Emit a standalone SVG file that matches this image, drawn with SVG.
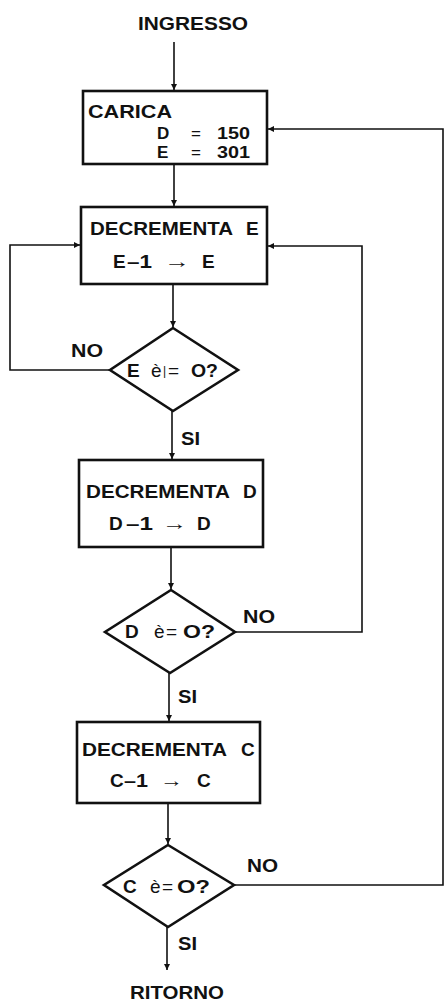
<svg xmlns="http://www.w3.org/2000/svg" width="444" height="1002" viewBox="0 0 444 1002">
<style>
  text { font-family: "Liberation Sans", "DejaVu Sans", sans-serif; font-weight: bold; fill: #111; }
  .t { font-size: 19px; }
  .s { font-size: 17px; }
  .thin { font-weight: normal; }
  .box { fill: #fff; stroke: #111; stroke-width: 2.6; }
  .dia { fill: #fff; stroke: #111; stroke-width: 2.6; stroke-linejoin: miter; }
  .con { fill: none; stroke: #111; stroke-width: 1.6; }
</style>
<defs>
  <marker id="ah" viewBox="0 0 10 10" refX="10" refY="5" markerWidth="6" markerHeight="6" markerUnits="userSpaceOnUse" orient="auto">
    <path d="M0,0 L10,5 L0,10 z" fill="#111"/>
  </marker>
</defs>
<rect width="444" height="1002" fill="#fff"/>

<g id="connectors">
  <path class="con" d="M174,42 V90" marker-end="url(#ah)"/>
  <path class="con" d="M174,164 V206" marker-end="url(#ah)"/>
  <path class="con" d="M173,284 V327" marker-end="url(#ah)"/>
  <path class="con" d="M110,370 H10 V245 H80" marker-end="url(#ah)"/>
  <path class="con" d="M172,411 V459" marker-end="url(#ah)"/>
  <path class="con" d="M171,547 V589" marker-end="url(#ah)"/>
  <path class="con" d="M235,632 H362 V246 H268" marker-end="url(#ah)"/>
  <path class="con" d="M169,673 V721" marker-end="url(#ah)"/>
  <path class="con" d="M168,803 V844" marker-end="url(#ah)"/>
  <path class="con" d="M234,885 H443 V129 H268" marker-end="url(#ah)"/>
  <path class="con" d="M167,927 V970" marker-end="url(#ah)"/>
</g>

<g id="ingresso">
  <text class="t" x="138" y="30" textLength="110" lengthAdjust="spacingAndGlyphs">INGRESSO</text>
</g>

<g id="carica">
  <rect class="box" x="83" y="91" width="184" height="73"/>
  <text class="t" x="88" y="118" textLength="84" lengthAdjust="spacingAndGlyphs">CARICA</text>
  <text class="s" x="157" y="139">D</text>
  <text class="s thin" x="191" y="139">=</text>
  <text class="s" x="217" y="139" textLength="33" lengthAdjust="spacingAndGlyphs">150</text>
  <text class="s" x="157" y="158">E</text>
  <text class="s thin" x="191" y="158">=</text>
  <text class="s" x="217" y="158" textLength="33" lengthAdjust="spacingAndGlyphs">301</text>
</g>

<g id="decrementa-e">
  <rect class="box" x="81" y="207" width="186" height="77"/>
  <text class="t" x="90" y="235" textLength="143" lengthAdjust="spacingAndGlyphs">DECREMENTA</text>
  <text class="t" x="246" y="235">E</text>
  <text class="t" x="113" y="268">E</text>
  <text class="t" x="127" y="268" textLength="25" lengthAdjust="spacingAndGlyphs">–1</text>
  <text class="t thin" x="164" y="268" textLength="26" lengthAdjust="spacingAndGlyphs">→</text>
  <text class="t" x="202" y="268">E</text>
</g>

<g id="test-e">
  <polygon class="dia" points="173,328 238,370 173,411 110,370"/>
  <text class="t" x="127" y="377">E</text>
  <text class="t thin" x="151" y="377">è</text>
  <text class="thin" x="163" y="375" font-size="12">|</text>
  <text class="t thin" x="168" y="377">=</text>
  <text class="t" x="191" y="377" textLength="27" lengthAdjust="spacingAndGlyphs">O?</text>
  <text class="t" x="71" y="357" textLength="32" lengthAdjust="spacingAndGlyphs">NO</text>
  <text class="t" x="181" y="445" textLength="19" lengthAdjust="spacingAndGlyphs">SI</text>
</g>

<g id="decrementa-d">
  <rect class="box" x="79" y="460" width="184" height="87"/>
  <text class="t" x="86" y="498" textLength="144" lengthAdjust="spacingAndGlyphs">DECREMENTA</text>
  <text class="t" x="243" y="498">D</text>
  <text class="t" x="109" y="530">D</text>
  <text class="t" x="126" y="530" textLength="27" lengthAdjust="spacingAndGlyphs">–1</text>
  <text class="t thin" x="162" y="530" textLength="25" lengthAdjust="spacingAndGlyphs">→</text>
  <text class="t" x="197" y="530">D</text>
</g>

<g id="test-d">
  <polygon class="dia" points="171,590 235,632 170,673 105,632"/>
  <text class="t" x="125" y="638">D</text>
  <text class="t thin" x="154" y="638">è</text>
  <text class="t thin" x="166" y="638">=</text>
  <text class="t" x="183" y="638" textLength="32" lengthAdjust="spacingAndGlyphs">O?</text>
  <text class="t" x="243" y="623" textLength="32" lengthAdjust="spacingAndGlyphs">NO</text>
  <text class="t" x="178" y="703" textLength="19" lengthAdjust="spacingAndGlyphs">SI</text>
</g>

<g id="decrementa-c">
  <rect class="box" x="77" y="722" width="183" height="81"/>
  <text class="t" x="82" y="756" textLength="145" lengthAdjust="spacingAndGlyphs">DECREMENTA</text>
  <text class="t" x="241" y="756">C</text>
  <text class="t" x="110" y="787">C</text>
  <text class="t" x="124" y="787" textLength="24" lengthAdjust="spacingAndGlyphs">–1</text>
  <text class="t thin" x="160" y="787" textLength="23" lengthAdjust="spacingAndGlyphs">→</text>
  <text class="t" x="197" y="787">C</text>
</g>

<g id="test-c">
  <polygon class="dia" points="168,845 234,885 168,927 104,885"/>
  <text class="t" x="123" y="893">C</text>
  <text class="t thin" x="150" y="893">è</text>
  <text class="t thin" x="162" y="893">=</text>
  <text class="t" x="177" y="893" textLength="33" lengthAdjust="spacingAndGlyphs">O?</text>
  <text class="t" x="247" y="872" textLength="31" lengthAdjust="spacingAndGlyphs">NO</text>
  <text class="t" x="178" y="950" textLength="19" lengthAdjust="spacingAndGlyphs">SI</text>
</g>

<g id="ritorno">
  <text class="t" x="130" y="999" textLength="94" lengthAdjust="spacingAndGlyphs">RITORNO</text>
</g>
</svg>
